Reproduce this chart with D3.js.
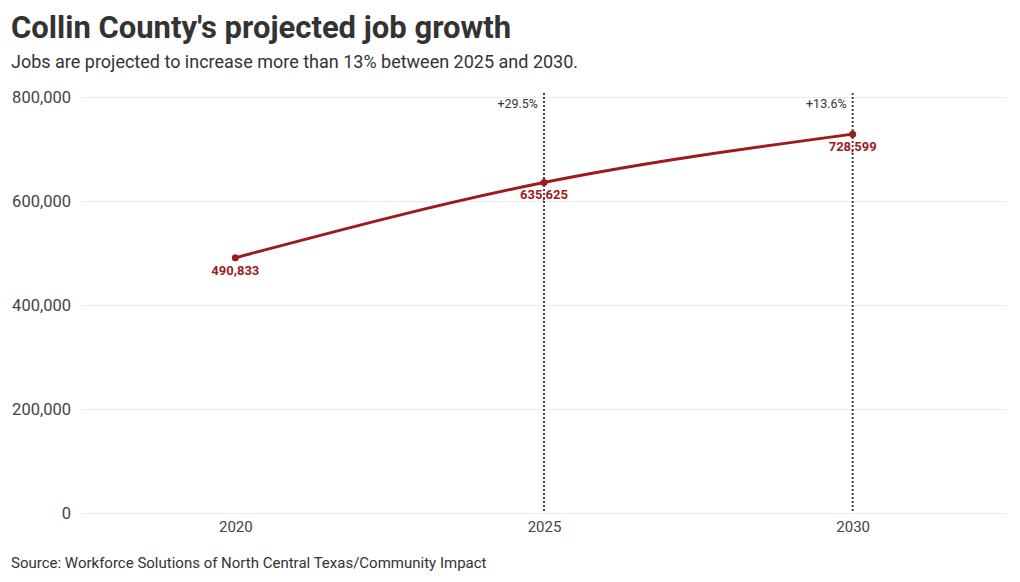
<!DOCTYPE html>
<html><head><meta charset="utf-8">
<script src="https://cdn.jsdelivr.net/npm/d3@7"></script>
<style>
body{margin:0;background:#fff;font-family:Roboto,"Liberation Sans",sans-serif;}
svg{display:block}
</style></head>
<body>
<svg id="chart" width="1020" height="582"></svg>
<script>
const years = ["2020","2025","2030"];
const jobs = [490833, 635625, 728599];
const yTicks = [0, 200000, 400000, 600000, 800000];
const markerYears = ["2025","2030"];
const markerLabels = ["+29.5%","+13.6%"];
const titleText = "Collin County's projected job growth";
const subtitleText = "Jobs are projected to increase more than 13% between 2025 and 2030.";
const sourceText = "Source: Workforce Solutions of North Central Texas/Community Impact";

const svg = d3.select("#chart");
const m = {l:81, r:1007, t:97, b:513};
const x = d3.scalePoint().domain(years).range([m.l, m.r]).padding(0.5);
const y = d3.scaleLinear().domain([0, 800000]).range([m.b, m.t]);
const red = "#9e1b1b";

svg.append("text").attr("x",11).attr("y",38).attr("font-size",31).attr("font-weight",700)
  .attr("fill","#333").text(titleText);
svg.append("text").attr("x",11).attr("y",68).attr("font-size",18).attr("fill","#333").text(subtitleText);

// grid
const yAxis = svg.append("g").attr("transform",`translate(${m.l},0)`)
  .call(d3.axisLeft(y).tickValues(yTicks).tickSize(-(m.r-m.l)).tickFormat(d3.format(",")));
yAxis.select(".domain").remove();
yAxis.selectAll(".tick line").attr("stroke","#ebebeb");
yAxis.selectAll(".tick text").attr("x",-10).attr("font-size",16.5).attr("fill","#444")
  .attr("font-family","Roboto,sans-serif");

const xAxis = svg.append("g").attr("transform",`translate(0,${m.b})`)
  .call(d3.axisBottom(x).tickSize(0));
xAxis.select(".domain").remove();
xAxis.selectAll(".tick text").attr("dy","1.05em").attr("font-size",15).attr("fill","#444")
  .attr("font-family","Roboto,sans-serif");

// marker lines
markerYears.forEach((yr,i)=>{
  svg.append("line").attr("x1",x(yr)).attr("x2",x(yr)).attr("y1",93).attr("y2",m.b)
    .attr("stroke","#444").attr("stroke-width",2).attr("stroke-dasharray","2,2");
  svg.append("text").attr("x",x(yr)-6).attr("y",108).attr("text-anchor","end")
    .attr("font-size",12.5).attr("fill","#333").text(markerLabels[i]);
});

const data = years.map((yr,i)=>({yr, v:jobs[i]}));
svg.append("path").datum(data)
  .attr("d", d3.line().x(d=>x(d.yr)).y(d=>y(d.v)).curve(d3.curveMonotoneX))
  .attr("fill","none").attr("stroke",red).attr("stroke-width",3);
svg.selectAll("circle.pt").data(data).join("circle").attr("class","pt")
  .attr("cx",d=>x(d.yr)).attr("cy",d=>y(d.v)).attr("r",3.5).attr("fill",red);
svg.selectAll("text.val").data(data).join("text").attr("class","val")
  .attr("x",d=>x(d.yr)).attr("y",d=>y(d.v)+17).attr("text-anchor","middle")
  .attr("font-size",13).attr("font-weight",700).attr("fill",red)
  .text(d=>d3.format(",")(d.v));

svg.append("text").attr("x",11).attr("y",568).attr("font-size",15).attr("fill","#333").text(sourceText);
</script>
</body></html>
